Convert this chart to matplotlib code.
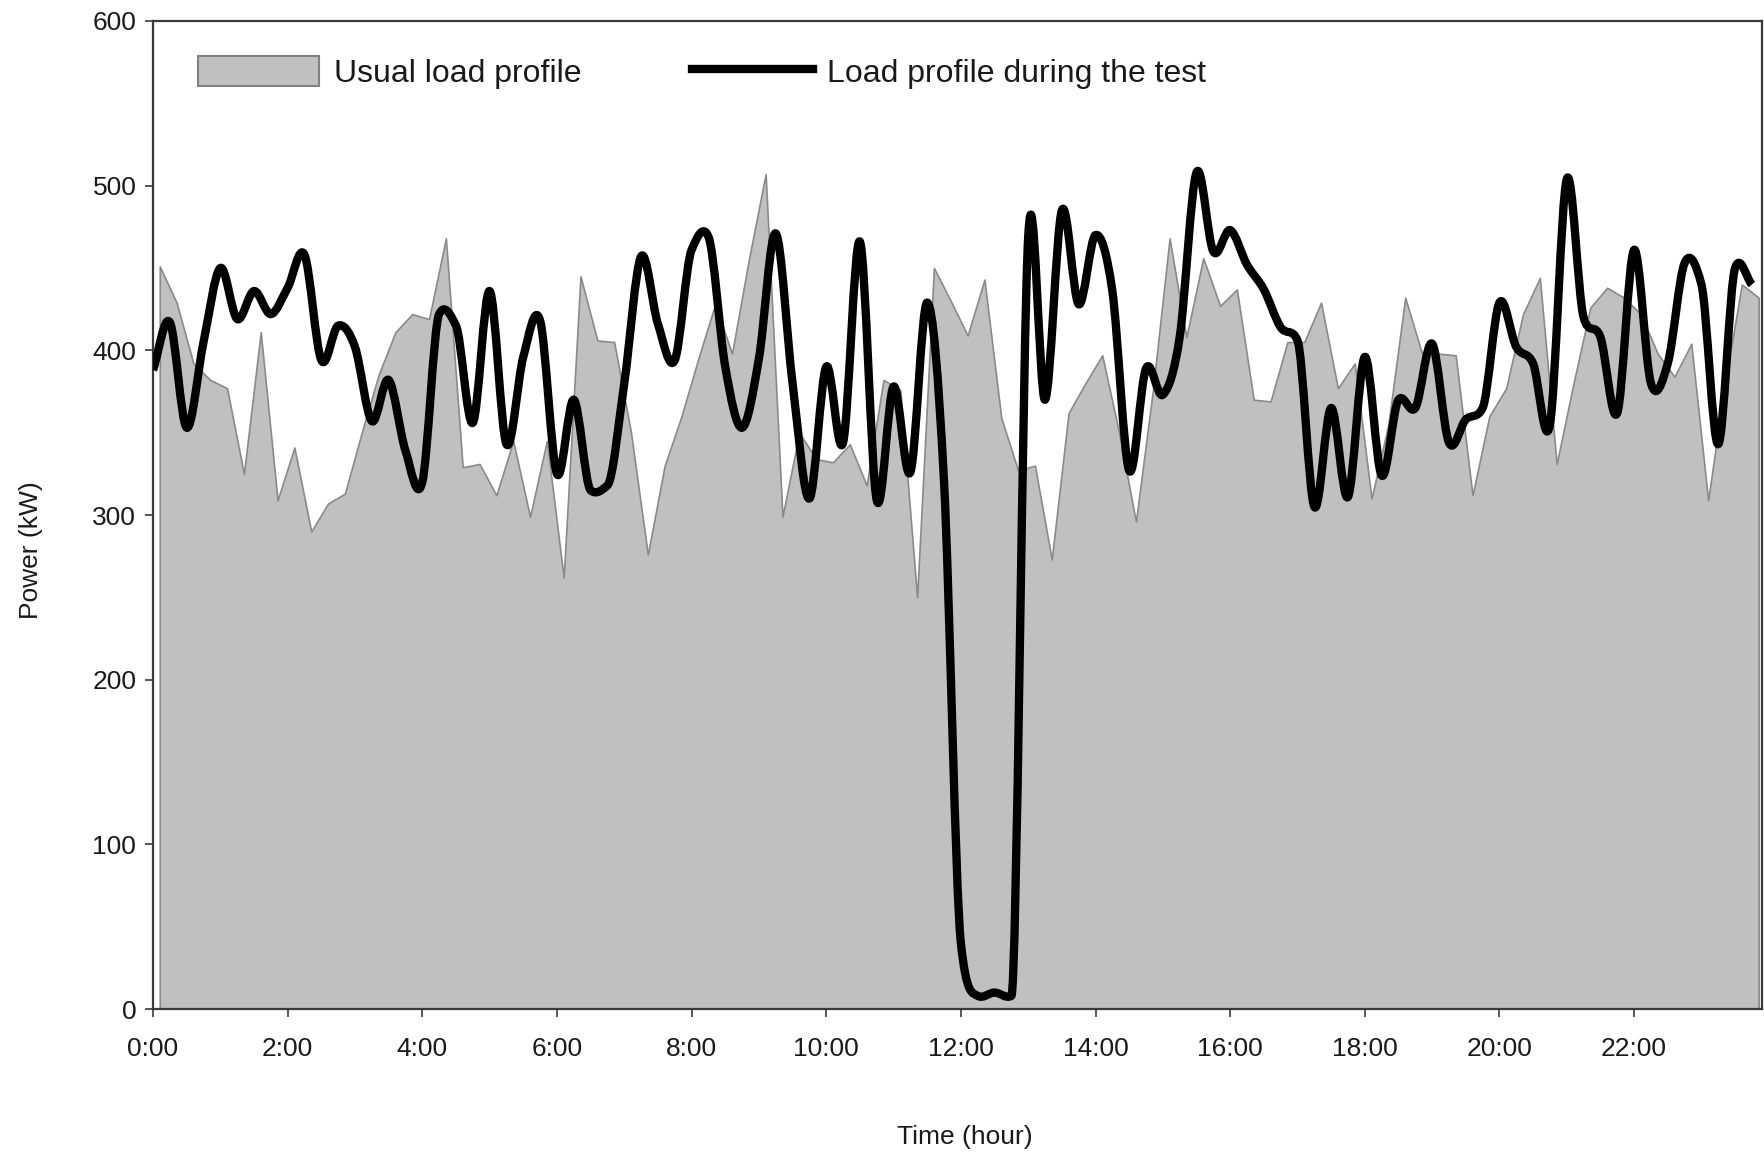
import numpy as np
import matplotlib
matplotlib.use("Agg")
import matplotlib.pyplot as plt
from matplotlib.path import Path
from matplotlib.patches import PathPatch, Patch
from matplotlib.lines import Line2D

plt.rcParams['font.family'] = ['Liberation Sans', 'DejaVu Sans']

# ---------------- data ----------------
usual_label = "Usual load profile"
test_label = "Load profile during the test"

# 15-minute samples (kW)
usual_kw = [451, 429, 392, 382, 377, 325, 411, 309, 341, 290,
            307, 313, 350, 385, 411, 422, 419, 468, 329, 331,
            312, 345, 299, 345, 262, 445, 406, 405, 350, 276,
            330, 360, 395, 428, 398, 455, 507, 299, 350, 334,
            332, 343, 318, 382, 376, 250, 450, 430, 409, 443,
            359, 327, 330, 273, 362, 380, 397, 350, 296, 375,
            468, 408, 456, 427, 437, 370, 369, 405, 405, 429,
            377, 392, 310, 355, 432, 398, 398, 397, 312, 360,
            377, 422, 444, 331, 380, 426, 438, 432, 422, 398,
            384, 404, 309, 380, 440, 432]

test_kw = [388, 417, 353, 405, 450, 419, 436, 422, 438, 458,
           394, 415, 402, 357, 382, 339, 320, 422, 415, 356,
           436, 343, 396, 418, 325, 370, 315, 318, 380, 457,
           416, 394, 461, 469, 390, 353, 395, 471, 380, 310,
           390, 344, 466, 309, 378, 326, 429, 320, 40, 8,
           10, 8, 469, 370, 485, 428, 470, 436, 327, 389,
           373, 408, 508, 460, 473, 452, 437, 414, 406, 305,
           365, 311, 396, 324, 370, 365, 404, 344, 358, 365,
           429, 402, 392, 355, 504, 420, 408, 362, 461, 380,
           392, 453, 440, 343, 450, 440]

usual_hours = 0.1 + 0.25 * np.arange(len(usual_kw))
test_hours = 0.25 * np.arange(len(test_kw))

x_ticks = [0, 2, 4, 6, 8, 10, 12, 14, 16, 18, 20, 22]
x_tick_labels = ["0:00", "2:00", "4:00", "6:00", "8:00", "10:00",
                 "12:00", "14:00", "16:00", "18:00", "20:00", "22:00"]
y_ticks = [0, 100, 200, 300, 400, 500, 600]
x_label = "Time (hour)"
y_label = "Power (kW)"


def smooth_path(x, y):
    """Cardinal cubic through the data points (tangents limited to avoid
    overshoot), expressed as Bezier segments for matplotlib's Path."""
    x = np.asarray(x, float)
    y = np.asarray(y, float)
    n = len(x)
    h = np.diff(x)
    d = np.diff(y) / h
    m = np.zeros(n)
    m[0] = d[0]
    m[-1] = d[-1]
    for i in range(1, n - 1):
        mi = 0.5 * (d[i - 1] + d[i])
        lim = 3.0 * min(abs(d[i - 1]), abs(d[i]))
        m[i] = np.sign(mi) * min(abs(mi), lim)
    verts = [(x[0], y[0])]
    codes = [Path.MOVETO]
    for i in range(n - 1):
        hh = h[i] / 3.0
        verts += [(x[i] + hh, y[i] + m[i] * hh),
                  (x[i + 1] - hh, y[i + 1] - m[i + 1] * hh),
                  (x[i + 1], y[i + 1])]
        codes += [Path.CURVE4] * 3
    return Path(verts, codes)


# ---------------- figure ----------------
fig = plt.figure(figsize=(17.65, 11.59), dpi=100)
ax = fig.add_axes([0.0867, 0.1294, 0.9116, 0.8525])

fill_color = '#c0c0c0'
edge_gray = '#8a8a8a'
spine_color = '#3a3a3a'

ax.fill_between(usual_hours, usual_kw, 0, facecolor=fill_color,
                edgecolor=edge_gray, linewidth=1.2, zorder=2)

ax.add_patch(PathPatch(smooth_path(test_hours, test_kw), facecolor='none',
                       edgecolor='black', linewidth=6, joinstyle='round',
                       capstyle='butt', zorder=3))

ax.set_xlim(0, 23.9)
ax.set_ylim(0, 600)
ax.set_xticks(x_ticks)
ax.set_xticklabels(x_tick_labels)
ax.set_yticks(y_ticks)

for s in ax.spines.values():
    s.set_color(spine_color)
    s.set_linewidth(1.6)

ax.tick_params(axis='both', direction='out', length=6, width=1.2,
               color=spine_color, labelsize=19, labelcolor='#1a1a1a')
ax.tick_params(axis='x', pad=14)
ax.tick_params(axis='y', pad=6)

ax.set_xlabel(x_label, fontsize=19, color='#1a1a1a')
ax.xaxis.label.set_va('center')
ax.xaxis.set_label_coords(0.5047, -0.1296)
ax.set_ylabel(y_label, fontsize=19, color='#1a1a1a')
ax.yaxis.label.set_va('center')
ax.yaxis.set_label_coords(-0.0757, 0.4646)

handles = [Patch(facecolor=fill_color, edgecolor='#808080', linewidth=1.5,
                 label=usual_label),
           Line2D([], [], color='black', linewidth=6, label=test_label)]
ax.legend(handles=handles, loc='upper left', bbox_to_anchor=(0.028, 0.965),
          ncol=2, frameon=False, fontsize=23, handlelength=3.8,
          handleheight=1.1, handletextpad=0.45, columnspacing=3.45,
          borderaxespad=0, borderpad=0, labelcolor='#1a1a1a')

fig.savefig('out.png', dpi=100, facecolor='white')
